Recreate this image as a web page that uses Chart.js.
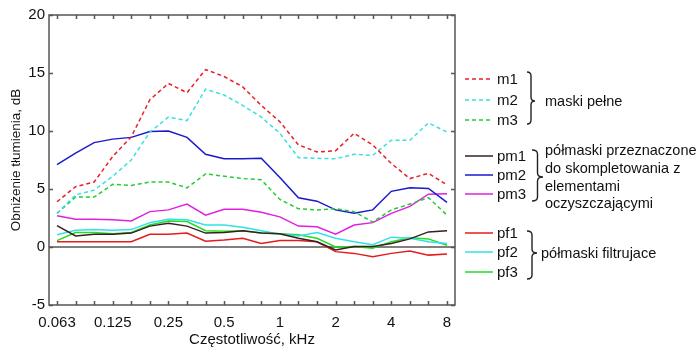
<!DOCTYPE html>
<html>
<head>
<meta charset="utf-8">
<script src="https://cdn.jsdelivr.net/npm/chart.js@4"></script>
<style>
  body { margin: 0; background: #fff; }
</style>
</head>
<body>
<canvas id="chart" width="700" height="350"></canvas>
<script>
// third-octave centre frequencies, kHz (x axis runs by index)
const FREQS = [0.063, 0.08, 0.1, 0.125, 0.16, 0.2, 0.25, 0.315, 0.4, 0.5, 0.63,
  0.8, 1, 1.25, 1.6, 2, 2.5, 3.15, 4, 5, 6.3, 8];
const OCTAVE_LABELS = ["0.063", "0.125", "0.25", "0.5", "1", "2", "4", "8"];
const Y_TICKS = [-5, 0, 5, 10, 15, 20];

// attenuation reduction, dB
const M1 = [3.9, 5.2, 5.6, 7.8, 9.5, 12.7, 14.1, 13.3, 15.3, 14.7, 13.8, 12.2, 10.8, 8.8, 8.2, 8.3, 9.8, 8.8, 7.2, 5.9, 6.35, 5.35];
const M2 = [2.9, 4.5, 4.9, 6.1, 7.5, 9.9, 11.2, 10.9, 13.6, 13.1, 12.2, 11.2, 9.8, 7.7, 7.65, 7.6, 8.0, 7.9, 9.2, 9.2, 10.7, 9.9];
const M3 = [2.9, 4.3, 4.3, 5.4, 5.3, 5.6, 5.6, 5.1, 6.3, 6.1, 5.9, 5.8, 4.1, 3.3, 3.2, 3.3, 3.05, 2.15, 3.2, 3.7, 4.25, 2.75];
const PM1 = [1.85, 0.95, 1.1, 1.1, 1.2, 1.8, 2.05, 1.8, 1.2, 1.25, 1.4, 1.2, 1.15, 0.75, 0.45, -0.25, 0.05, 0.05, 0.3, 0.7, 1.3, 1.4];
const PM2 = [7.1, 8.1, 9.0, 9.3, 9.45, 9.95, 10.0, 9.45, 8.0, 7.6, 7.6, 7.65, 6.0, 4.25, 3.95, 3.2, 2.9, 3.2, 4.8, 5.1, 5.05, 3.85];
const PM3 = [2.7, 2.4, 2.4, 2.35, 2.25, 3.05, 3.2, 3.7, 2.75, 3.25, 3.25, 3.0, 2.6, 1.8, 1.75, 1.1, 1.9, 2.1, 2.9, 3.5, 4.55, 4.6];
const PF1 = [0.45, 0.45, 0.45, 0.45, 0.45, 1.1, 1.1, 1.2, 0.5, 0.6, 0.75, 0.3, 0.55, 0.55, 0.45, -0.4, -0.55, -0.85, -0.55, -0.35, -0.7, -0.6];
const PF2 = [1.05, 1.45, 1.5, 1.45, 1.5, 2.1, 2.4, 2.35, 1.9, 1.9, 1.7, 1.4, 1.1, 0.95, 1.25, 0.75, 0.45, 0.2, 0.85, 0.75, 0.45, 0.3];
const PF3 = [0.55, 1.25, 1.25, 1.15, 1.25, 1.9, 2.25, 2.2, 1.4, 1.35, 1.4, 1.2, 1.15, 1.05, 0.75, 0, 0.05, -0.1, 0.45, 0.8, 0.7, 0.15];

const SERIES_NAMES = ["m1", "m2", "m3", "pm1", "pm2", "pm3", "pf1", "pf2", "pf3"];
const GROUP_LABELS = [
  ["maski pełne"],
  ["półmaski przeznaczone", "do skompletowania z", "elementami", "oczyszczającymi"],
  ["półmaski filtrujace"]
];

const FONT = "'Liberation Sans', Arial, sans-serif";
const DASH = [4, 3];

function toPoints(values) {
  return values.map((v, i) => ({ x: i, y: v }));
}

function makeDataset(label, values, color, dashed) {
  return {
    label,
    data: toPoints(values),
    borderColor: color,
    borderWidth: 1.5,
    borderDash: dashed ? DASH : [],
    pointRadius: 0,
    tension: 0,
    fill: false
  };
}

const datasets = [
  makeDataset(SERIES_NAMES[0], M1, "#e8202a", true),
  makeDataset(SERIES_NAMES[1], M2, "#3ae0e0", true),
  makeDataset(SERIES_NAMES[2], M3, "#22cc33", true),
  makeDataset(SERIES_NAMES[3], PM1, "#3a1f1f", false),
  makeDataset(SERIES_NAMES[4], PM2, "#1a1acc", false),
  makeDataset(SERIES_NAMES[5], PM3, "#e020e0", false),
  makeDataset(SERIES_NAMES[6], PF1, "#e51c1c", false),
  makeDataset(SERIES_NAMES[7], PF2, "#33e0e6", false),
  makeDataset(SERIES_NAMES[8], PF3, "#22dd22", false)
];

// box round the plot with the ticks pointing inwards, matlab style
const framePlugin = {
  id: "frame",
  afterDatasetsDraw(chart) {
    const { ctx, chartArea: a, scales } = chart;
    ctx.save();
    ctx.strokeStyle = "#555";
    ctx.lineWidth = 1.5;
    ctx.beginPath();
    scales.x.ticks.forEach(t => {
      const px = Math.round(scales.x.getPixelForValue(t.value)) + 0.5;
      ctx.moveTo(px, a.bottom); ctx.lineTo(px, a.bottom - 4);
      ctx.moveTo(px, a.top); ctx.lineTo(px, a.top + 4);
    });
    scales.y.ticks.forEach(t => {
      const py = Math.round(scales.y.getPixelForValue(t.value)) + 0.5;
      ctx.moveTo(a.left, py); ctx.lineTo(a.left + 4, py);
      ctx.moveTo(a.right, py); ctx.lineTo(a.right - 4, py);
    });
    ctx.stroke();
    ctx.strokeRect(a.left, a.top, a.right - a.left, a.bottom - a.top);
    ctx.restore();
  }
};

function drawBrace(ctx, x, top, bottom, tipY, w) {
  const r = 4;
  const mx = x + w / 2;
  ctx.beginPath();
  ctx.moveTo(x, top);
  ctx.quadraticCurveTo(mx, top, mx, top + r);
  ctx.lineTo(mx, tipY - r);
  ctx.quadraticCurveTo(mx, tipY, x + w, tipY);
  ctx.quadraticCurveTo(mx, tipY, mx, tipY + r);
  ctx.lineTo(mx, bottom - r);
  ctx.quadraticCurveTo(mx, bottom, x, bottom);
  ctx.stroke();
}

// legend with grouping braces on the right
const LEGEND_Y = [79, 100, 120, 156, 175, 194, 233, 252, 272];
const BRACES = [
  { x: 527, w: 8, top: 72, bottom: 124, tip: 101, textX: 545, textY: [101] },
  { x: 532, w: 11, top: 150, bottom: 201, tip: 177, textX: 545, textY: [150, 168, 186, 203] },
  { x: 527, w: 10, top: 231, bottom: 279, tip: 253, textX: 541, textY: [253] }
];

const legendPlugin = {
  id: "sideLegend",
  afterDraw(chart) {
    const ctx = chart.ctx;
    ctx.save();
    ctx.textBaseline = "middle";
    chart.data.datasets.forEach((ds, i) => {
      const y = LEGEND_Y[i];
      ctx.strokeStyle = ds.borderColor;
      ctx.lineWidth = 1.5;
      ctx.setLineDash(ds.borderDash);
      ctx.beginPath();
      ctx.moveTo(465, y);
      ctx.lineTo(493, y);
      ctx.stroke();
      ctx.setLineDash([]);
      ctx.fillStyle = "#111";
      ctx.font = "15px " + FONT;
      ctx.fillText(ds.label, 497, y + 1);
    });
    ctx.strokeStyle = "#222";
    ctx.lineWidth = 1.4;
    BRACES.forEach((b, gi) => {
      drawBrace(ctx, b.x, b.top, b.bottom, b.tip, b.w);
      ctx.font = "14.5px " + FONT;
      GROUP_LABELS[gi].forEach((line, li) => ctx.fillText(line, b.textX, b.textY[li] + 1));
    });
    ctx.restore();
  }
};

new Chart(document.getElementById("chart"), {
  type: "line",
  data: { datasets },
  options: {
    responsive: false,
    animation: false,
    layout: { padding: { top: 15, right: 245, left: 0, bottom: 0 } },
    plugins: {
      legend: { display: false },
      tooltip: { enabled: false }
    },
    scales: {
      x: {
        type: "linear",
        min: -0.43,
        max: FREQS.length - 1 + 0.43,
        afterBuildTicks: scale => {
          scale.ticks = FREQS.map((f, i) => ({ value: i }));
        },
        afterFit: scale => { scale.height = 45; },
        ticks: {
          autoSkip: false,
          maxRotation: 0,
          padding: 1,
          color: "#111",
          font: { family: FONT, size: 15 },
          callback: v => (v % 3 === 0 ? OCTAVE_LABELS[v / 3] : "")
        },
        grid: { display: false },
        border: { display: false },
        title: {
          display: true,
          text: "Częstotliwość, kHz",
          color: "#111",
          font: { family: FONT, size: 15 },
          padding: { top: 0, bottom: 1 }
        }
      },
      y: {
        min: -5,
        max: 20,
        afterBuildTicks: scale => {
          scale.ticks = Y_TICKS.map(v => ({ value: v }));
        },
        afterFit: scale => { scale.width = 49; },
        ticks: {
          padding: 4,
          color: "#111",
          font: { family: FONT, size: 15 }
        },
        grid: {
          drawTicks: false,
          color: ctx => (ctx.tick && ctx.tick.value === 0 ? "#808080" : "transparent"),
          lineWidth: 2
        },
        border: { display: false },
        title: {
          display: true,
          text: "Obniżenie tłumienia, dB",
          color: "#111",
          font: { family: FONT, size: 13.5 },
          padding: { top: 8, bottom: 0 }
        }
      }
    }
  },
  plugins: [framePlugin, legendPlugin]
});
</script>
</body>
</html>
